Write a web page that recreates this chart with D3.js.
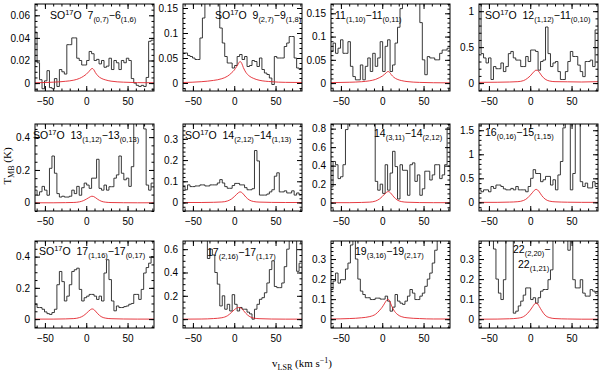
<!DOCTYPE html>
<html>
<head>
<meta charset="utf-8">
<script src="https://cdn.jsdelivr.net/npm/d3@7"></script>
<style>
  body { margin: 0; background: #fff; }
  svg { display: block; }
  .tick text { font-family: "Liberation Sans", Arial, sans-serif; font-size: 10px; fill: #000; }
  .tick line { stroke: #000; }
  .lbl { font-family: "Liberation Sans", Arial, sans-serif; fill: #000; }
  .title { font-family: "Liberation Serif", "Times New Roman", serif; font-size: 11px; fill: #000; }
</style>
</head>
<body>
<svg id="chart" width="600" height="374"></svg>
<script>
// channel centres (km/s)
const vel = [-61, -58, -55, -52, -49, -46, -43, -40, -37, -34, -31, -28,
  -25, -22, -19, -16, -13, -10, -7, -4, -1, 2, 5, 8,
  11, 14, 17, 20, 23, 26, 29, 32, 35, 38, 41, 44,
  47, 50, 53, 56, 59, 62, 65, 68, 71, 74, 77, 80];

const spec1 = [0.045, 0.018, 0.003, -0.005, 0.002, 0.011, -0.004, -0.005, 0.004, -0.003, 0.012, 0.01,
  0.008, 0.034, 0.034, 0.04, 0.04, 0.022, 0.02, 0.016, 0.016, 0.02, 0.028, 0.026,
  0.02, 0.021, 0.017, 0.02, 0.014, 0.015, 0.022, 0.012, 0.02, 0.018, 0.012, 0.02,
  0.018, 0.022, 0.02, 0.004, 0.0, -0.002, -0.003, -0.002, -0.003, 0.005, 0.037, 0.038];
const spec2 = [0.06, 0.06, 0.055, 0.053, 0.05, 0.047, 0.047, 0.09, 0.13, 0.2, 0.25, 0.25,
  0.22, 0.2, 0.18, 0.11, 0.08, 0.053, 0.04, 0.04, 0.03, 0.035, 0.053, 0.057,
  0.047, 0.053, 0.033, 0.035, 0.045, 0.043, 0.033, 0.05, 0.027, 0.02, 0.017, 0.01,
  -0.003, 0.053, 0.05, 0.05, 0.05, 0.073, 0.08, 0.093, 0.093, 0.05, 0.03, 0.027];
const spec3 = [0.068, 0.086, 0.064, 0.075, 0.093, 0.064, 0.064, 0.089, 0.036, 0.014, 0.007, 0.007,
  0.039, 0.007, 0.036, 0.054, 0.025, 0.064, 0.036, 0.054, 0.089, 0.025, 0.079, 0.093,
  0.025, 0.039, 0.086, 0.12, 0.16, 0.3, 0.4, 0.5, 0.5, 0.45, 0.35, 0.2,
  0.13, 0.05, 0.018, 0.057, 0.054, 0.054, 0.05, 0.05, 0.064, 0.071, 0.071, 0.075];
const spec4 = [1.2, 0.41, 0.35, 0.28, 0.35, 0.05, 0.23, 0.2, 0.2, 0.28, 0.16, 0.23,
  0.41, 0.44, 0.35, 0.32, 0.32, 0.23, 0.23, 0.37, 0.3, 0.46, 0.46, 0.44,
  0.18, 0.3, 0.32, 0.78, 0.41, 0.23, 0.28, 0.3, 0.16, 0.05, 0.05, 0.16,
  0.3, 0.44, 0.37, 0.37, 0.25, 0.16, 0.09, 0.3, 0.3, 0.32, 0.23, 0.74];
const spec5 = [0.077, 0.046, 0.067, 0.1, 0.077, 0.046, 0.21, 0.285, 0.18, 0.056, 0.035, 0.04,
  0.035, 0.035, 0.04, 0.077, 0.056, 0.1, 0.046, 0.092, 0.12, 0.108, 0.088, 0.15,
  0.15, 0.265, 0.088, 0.077, 0.108, 0.077, 0.098, 0.098, 0.15, 0.17, 0.285, 0.18,
  0.14, 0.15, 0.1, 0.22, 0.5, 0.6, 0.6, 0.55, 0.45, 0.108, 0.077, 0.12];
const spec6 = [0.075, 0.06, 0.083, 0.075, 0.075, 0.078, 0.078, 0.083, 0.083, 0.078, 0.078, 0.083,
  0.083, 0.083, 0.092, 0.108, 0.092, 0.075, 0.067, 0.067, 0.08, 0.09, 0.09, 0.083,
  0.083, 0.07, 0.06, 0.06, 0.065, 0.245, 0.196, 0.035, 0.035, 0.035, 0.04, 0.05,
  0.06, 0.124, 0.14, 0.05, 0.05, 0.055, 0.045, 0.045, 0.055, 0.035, 0.045, 0.035];
const spec7 = [0.17, 0.445, 0.41, 0.26, 0.28, 0.41, 0.79, 1.1, 1.3, 1.4, 1.4, 1.3,
  1.2, 1.1, 1.0, 1.0, 0.95, 0.9, 0.23, 0.135, 0.2, 0.1, 0.41, 0.135,
  0.32, 0.555, 0.39, 0.04, 0.41, 0.35, 0.35, 0.08, 0.41, 0.43, 0.23, 0.3,
  0.08, 0.15, 0.34, 0.34, 0.245, 0.3, 0.41, 0.41, 0.26, 0.3, 0.41, 0.81];
const spec8 = [0.26, 0.22, 0.26, 0.26, 0.22, 0.33, 0.29, 0.36, 0.36, 0.33, 0.28, 0.26,
  0.26, 0.29, 0.26, 0.33, 0.26, 0.26, 0.26, 0.22, 0.33, 0.5, 0.68, 0.6,
  0.6, 0.43, 0.47, 0.54, 0.54, 0.36, 0.47, 0.26, 0.57, 0.85, 1.55, 2.0,
  2.2, 0.26, 0.6, 1.9, 2.0, 0.43, 0.33, 0.4, 0.3, 0.3, 0.43, 0.33];
const spec9 = [0.095, 0.074, 0.074, 0.063, 0.046, 0.035, 0.03, 0.042, 0.063, 0.22, 0.305, 0.24,
  0.116, 0.147, 0.22, 0.305, 0.316, 0.326, 0.19, 0.116, 0.137, 0.147, 0.158, 0.158,
  0.147, 0.126, 0.147, 0.116, 0.295, 0.38, 0.253, 0.116, 0.053, 0.084, 0.074, 0.074,
  0.08, 0.084, 0.095, 0.1, 0.158, 0.158, 0.126, 0.19, 0.295, 0.33, 0.358, 0.4];
const spec10 = [0.9, 0.9, 0.85, 0.85, 0.8, 0.8, 0.75, 0.75, 0.7, 0.68, 0.52, 0.6,
  0.55, 0.4, 0.3, 0.113, 0.2, 0.085, 0.127, 0.07, 0.21, 0.127, 0.07, 0.1,
  0.085, 0.085, 0.06, 0.045, 0.0, 0.085, 0.127, 0.17, 0.184, 0.226, 0.31, 0.425,
  0.5, 0.28, 0.27, 0.27, 0.31, 0.45, 0.6, 0.8, 0.85, 0.8, 0.41, 0.48];
const spec11 = [0.148, 0.19, 0.23, 0.18, 0.197, 0.197, 0.25, 0.28, 0.37, 0.45, 0.3, 0.2,
  0.14, 0.123, 0.107, 0.107, 0.098, 0.098, 0.105, 0.105, 0.1, 0.1, 0.115, 0.09,
  0.04, 0.06, 0.123, 0.09, 0.08, 0.074, 0.09, 0.115, 0.148, 0.13, 0.098, 0.098,
  0.115, 0.13, 0.164, 0.2, 0.23, 0.28, 0.344, 0.42, 0.5, 0.55, 0.6, 0.6];
const spec12 = [0.6, 0.6, 0.6, 0.55, 0.5, 0.45, 0.35, 0.2, 0.13, 0.098, 0.197, 0.45,
  0.6, 0.6, 0.03, 0.04, 0.066, 0.09, 0.12, 0.156, 0.156, 0.098, 0.107, 0.08,
  0.107, 0.14, 0.148, 0.148, 0.197, 0.246, 0.45, 0.6, 0.6, 0.6, 0.6, 0.6,
  0.344, 0.6, 0.197, 0.156, 0.156, 0.197, 0.13, 0.115, 0.115, 0.148, 0.14, 0.13];

// model (red) curves, sampled at these velocities
const modelV = [-62, -40, -25, -15, -8, -3, 0, 3, 5, 7, 9, 11, 14, 18, 23, 30, 45, 62, 82];
const model1 = [0.0003, 0.0008, 0.0016, 0.0026, 0.0042, 0.0062, 0.0078, 0.01, 0.0117, 0.013, 0.012, 0.0094, 0.0065, 0.0043, 0.0029, 0.0017, 0.0008, 0.0004, 0.0003];
const model2 = [0.001, 0.0026, 0.0052, 0.0086, 0.0138, 0.0206, 0.0258, 0.0331, 0.0387, 0.043, 0.0396, 0.031, 0.0215, 0.0142, 0.0095, 0.0056, 0.0026, 0.0013, 0.001];
const model3 = [0.001, 0.0018, 0.003, 0.005, 0.008, 0.012, 0.015, 0.0192, 0.0225, 0.025, 0.023, 0.018, 0.0125, 0.0083, 0.0055, 0.0033, 0.0015, 0.0008, 0.0005];
const model4 = [0.01, 0.012, 0.015, 0.02, 0.035, 0.07, 0.1, 0.14, 0.165, 0.18, 0.175, 0.15, 0.1, 0.055, 0.03, 0.02, 0.018, 0.015, 0.02];
const model5 = [0, 0, 0.001, 0.002, 0.006, 0.014, 0.022, 0.031, 0.037, 0.04, 0.038, 0.032, 0.021, 0.01, 0.004, 0.0015, 0.0005, 0, 0];
const model6 = [0, 0, 0.001, 0.0025, 0.0075, 0.0175, 0.0275, 0.039, 0.046, 0.05, 0.0475, 0.04, 0.026, 0.0125, 0.005, 0.002, 0.0005, 0, 0];
const model7 = [0, 0, 0.0024, 0.006, 0.018, 0.042, 0.066, 0.094, 0.11, 0.12, 0.114, 0.096, 0.062, 0.03, 0.012, 0.005, 0.001, 0, 0];
const model8 = [0, 0, 0.005, 0.014, 0.04, 0.095, 0.15, 0.21, 0.25, 0.27, 0.256, 0.216, 0.14, 0.068, 0.027, 0.011, 0.003, 0, 0];
const model9 = [0, 0, 0.0013, 0.0033, 0.01, 0.023, 0.036, 0.051, 0.06, 0.065, 0.062, 0.052, 0.034, 0.016, 0.0065, 0.0026, 0.0007, 0, 0];
const model10 = [0, 0.001, 0.005, 0.012, 0.03, 0.06, 0.08, 0.095, 0.1, 0.098, 0.09, 0.075, 0.05, 0.025, 0.01, 0.004, 0.001, 0, 0];
const model11 = [0.001, 0.003, 0.007, 0.013, 0.025, 0.045, 0.06, 0.08, 0.093, 0.1, 0.09, 0.07, 0.045, 0.025, 0.013, 0.007, 0.003, 0.001, 0.001];
const model12 = [0, 0.0005, 0.002, 0.005, 0.013, 0.03, 0.045, 0.063, 0.075, 0.08, 0.076, 0.063, 0.042, 0.02, 0.008, 0.003, 0.001, 0, 0];

// transition labels: lines of [text, kind]
const SO = [["SO"], ["17", "sup"], ["O  "]];
const labels = [
  [[...SO, ["7"], ["(0,7)", "sub"], ["\u22126"], ["(1,6)", "sub"]]],
  [[...SO, ["9"], ["(2,7)", "sub"], ["\u22129"], ["(1,8)", "sub"]]],
  [[["11"], ["(1,10)", "sub"], ["\u221211"], ["(0,11)", "sub"]]],
  [[...SO, ["12"], ["(1,12)", "sub"], ["\u221211"], ["(0,10)", "sub"]]],
  [[...SO, ["13"], ["(1,12)", "sub"], ["\u221213"], ["(0,13)", "sub"]]],
  [[...SO, ["14"], ["(2,12)", "sub"], ["\u221214"], ["(1,13)", "sub"]]],
  [[["14"], ["(3,11)", "sub"], ["\u221214"], ["(2,12)", "sub"]]],
  [[["16"], ["(0,16)", "sub"], ["\u221215"], ["(1,15)", "sub"]]],
  [[...SO, ["17"], ["(1,16)", "sub"], ["\u221217"], ["(0,17)", "sub"]]],
  [[["17"], ["(2,16)", "sub"], ["\u221217"], ["(1,17)", "sub"]]],
  [[["19"], ["(3,16)", "sub"], ["\u221219"], ["(2,17)", "sub"]]],
  [[["22"], ["(2,20)", "sub"], ["\u2212"]], [["22"], ["(1,21)", "sub"]]]
];

const yDomains = [[-0.007, 0.07], [-0.016, 0.158], [-0.017, 0.17], [-0.11, 1.1],
  [-0.05, 0.48], [-0.04, 0.37], [-0.09, 0.85], [-0.18, 1.63],
  [-0.057, 0.5], [-0.076, 0.67], [-0.044, 0.39], [-0.044, 0.39]];
const yTicks = [[0, 0.02, 0.04, 0.06], [0, 0.05, 0.1, 0.15], [0, 0.05, 0.1, 0.15], [0, 0.5, 1],
  [0, 0.2, 0.4], [0, 0.1, 0.2, 0.3], [0, 0.2, 0.4, 0.6, 0.8], [0, 0.5, 1, 1.5],
  [0, 0.2, 0.4], [0, 0.2, 0.4, 0.6], [0, 0.1, 0.2, 0.3], [0, 0.1, 0.2, 0.3]];
const yMinor = [0.005, 0.01, 0.01, 0.1, 0.05, 0.02, 0.05, 0.1, 0.05, 0.05, 0.02, 0.02];
const xTicks = [-50, 0, 50];

const specs = [spec1, spec2, spec3, spec4, spec5, spec6, spec7, spec8, spec9, spec10, spec11, spec12];
const models = [model1, model2, model3, model4, model5, model6, model7, model8, model9, model10, model11, model12];

// layout
const colX = [35, 183, 331, 479];
const rowY = [4, 124, 241];
const pw = 119, ph = 87;
const labelPos = [[15, 15], [32, 15], [4, 15], [6, 15], [-2, 15], [2, 15], [43, 13], [6, 12],
  [4, 14], [24, 15], [24, 14], [34, 12]];

const svg = d3.select("#chart");
const x = d3.scaleLinear().domain([-62, 82]).range([0, pw]);
const fmt = d3.format("~g");

function addLabel(g, lines, x0, y0) {
  lines.forEach((parts, li) => {
    const t = g.append("text").attr("class", "lbl")
      .attr("x", x0 + li * 5).attr("y", y0 + li * 15);
    let shift = 0;
    parts.forEach(([s, kind]) => {
      const target = kind === "sup" ? -4 : kind === "sub" ? 3 : 0;
      t.append("tspan")
        .attr("dy", target - shift)
        .attr("font-size", kind ? 7.5 : 10.5)
        .attr("xml:space", "preserve")
        .text(s);
      shift = target;
    });
  });
}

specs.forEach((spec, i) => {
  const g = svg.append("g")
    .attr("transform", `translate(${colX[i % 4]},${rowY[Math.floor(i / 4)]})`);
  const y = d3.scaleLinear().domain(yDomains[i]).range([ph, 0]);

  g.append("clipPath").attr("id", "clip" + i)
    .append("rect").attr("width", pw).attr("height", ph);
  const plot = g.append("g").attr("clip-path", `url(#clip${i})`);

  // histogram spectrum
  const steps = vel.map((v, k) => [v - 1.5, spec[k]]);
  steps.push([vel[vel.length - 1] + 1.5, spec[spec.length - 1]]);
  plot.append("path")
    .datum(steps)
    .attr("fill", "none")
    .attr("stroke", "#222")
    .attr("stroke-width", 0.9)
    .attr("d", d3.line().x(d => x(d[0])).y(d => y(d[1])).curve(d3.curveStepAfter));

  // model
  plot.append("path")
    .datum(modelV.map((v, k) => [v, models[i][k]]))
    .attr("fill", "none")
    .attr("stroke", "#e3262e")
    .attr("stroke-width", 0.9)
    .attr("d", d3.line().x(d => x(d[0])).y(d => y(d[1])).curve(d3.curveMonotoneX));

  // axes, ticks pointing inwards on all sides
  const minorX = d3.range(-60, 81, 10);
  const minorY = d3.range(Math.ceil(yDomains[i][0] / yMinor[i]), Math.floor(yDomains[i][1] / yMinor[i]) + 1)
    .map(k => k * yMinor[i]);

  const axes = [
    [d3.axisBottom(x).tickValues(xTicks).tickFormat(fmt).tickSize(-5).tickPadding(7), `translate(0,${ph})`],
    [d3.axisBottom(x).tickValues(minorX).tickFormat("").tickSize(-2.5), `translate(0,${ph})`],
    [d3.axisTop(x).tickValues(xTicks).tickFormat("").tickSize(-5), null],
    [d3.axisTop(x).tickValues(minorX).tickFormat("").tickSize(-2.5), null],
    [d3.axisLeft(y).tickValues(yTicks[i]).tickFormat(fmt).tickSize(-5).tickPadding(5), null],
    [d3.axisLeft(y).tickValues(minorY).tickFormat("").tickSize(-2.5), null],
    [d3.axisRight(y).tickValues(yTicks[i]).tickFormat("").tickSize(-5), `translate(${pw},0)`],
    [d3.axisRight(y).tickValues(minorY).tickFormat("").tickSize(-2.5), `translate(${pw},0)`]
  ];
  axes.forEach(([ax, tr]) => {
    const a = g.append("g").call(ax);
    if (tr) a.attr("transform", tr);
    a.attr("font-family", null).attr("font-size", null);
    a.select(".domain").remove();
  });

  g.append("rect")
    .attr("width", pw).attr("height", ph)
    .attr("fill", "none").attr("stroke", "#000").attr("stroke-width", 1);

  addLabel(g, labels[i], labelPos[i][0], labelPos[i][1]);
});

// axis titles
const yt = svg.append("text").attr("class", "title")
  .attr("transform", "translate(11,166) rotate(-90)")
  .attr("text-anchor", "middle");
yt.append("tspan").text("T");
yt.append("tspan").attr("dy", 3).attr("font-size", 8).text("MB");
yt.append("tspan").attr("dy", -3).attr("xml:space", "preserve").text(" (K)");

const xt = svg.append("text").attr("class", "title")
  .attr("x", 302).attr("y", 367)
  .attr("text-anchor", "middle");
xt.append("tspan").text("v");
xt.append("tspan").attr("dy", 3).attr("font-size", 8).text("LSR");
xt.append("tspan").attr("dy", -3).attr("xml:space", "preserve").text(" (km s");
xt.append("tspan").attr("dy", -4).attr("font-size", 8).text("\u22121");
xt.append("tspan").attr("dy", 4).text(")");
</script>
</body>
</html>
